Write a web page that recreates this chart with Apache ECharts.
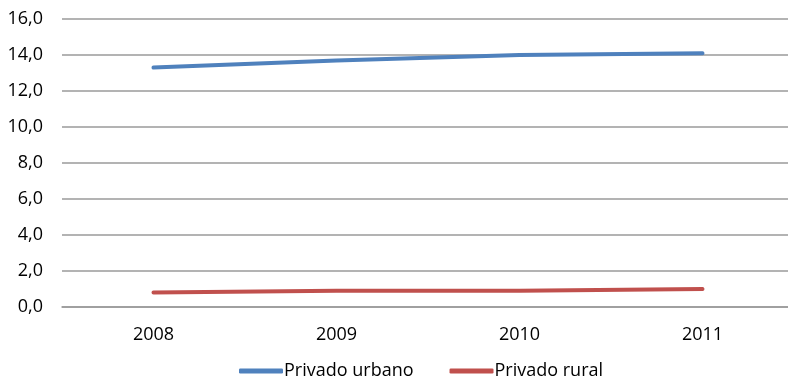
<!DOCTYPE html>
<html>
<head>
<meta charset="utf-8">
<script src="https://cdn.jsdelivr.net/npm/echarts@6/dist/echarts.min.js"></script>
<style>
  html, body { margin: 0; padding: 0; background: #fff; }
  #chart { width: 788px; height: 377px; }
</style>
</head>
<body>
<div id="chart"></div>
<script>
// Years on the category axis
const years = ['2008', '2009', '2010', '2011'];
// Series values
const privadoUrbano = [13.3, 13.7, 14.0, 14.1];
const privadoRural = [0.8, 0.9, 0.9, 1.0];
// Series names
const seriesNames = ['Privado urbano', 'Privado rural'];

const FONT = '"Open Sans", "Liberation Sans", sans-serif';
const GRID_COLOR = '#9a9a9a';

const chart = echarts.init(document.getElementById('chart'), null, { renderer: 'canvas' });

chart.setOption({
  animation: false,
  backgroundColor: '#ffffff',
  grid: { left: 62, width: 732, top: 19, bottom: 70, containLabel: false, outerBoundsMode: 'none' },
  legend: {
    data: [
      { name: seriesNames[0], icon: 'roundRect' },
      { name: seriesNames[1], icon: 'roundRect' }
    ],
    left: 234,
    top: 357,
    itemWidth: 44,
    itemHeight: 5,
    itemGap: 36,
    textStyle: { fontFamily: FONT, fontSize: 18, color: '#000', padding: [0, 0, 0, -4] }
  },
  xAxis: {
    type: 'category',
    data: years,
    boundaryGap: true,
    axisLine: { show: true, lineStyle: { color: GRID_COLOR, width: 1.5 } },
    axisTick: { show: false },
    axisLabel: { fontFamily: FONT, fontSize: 18, color: '#000', margin: 19 }
  },
  yAxis: {
    type: 'value',
    min: 0,
    max: 16,
    interval: 2,
    axisLine: { show: false },
    axisTick: { show: false },
    splitLine: { lineStyle: { color: GRID_COLOR, width: 1.5 } },
    axisLabel: {
      fontFamily: FONT, fontSize: 18, color: '#000', margin: 19,
      formatter: v => v.toFixed(1).replace('.', ',')
    }
  },
  series: [
    {
      name: seriesNames[0],
      type: 'line',
      data: privadoUrbano,
      symbol: 'none',
      itemStyle: { color: '#4F81BD' },
      lineStyle: { color: '#4F81BD', width: 4, cap: 'round' }
    },
    {
      name: seriesNames[1],
      type: 'line',
      data: privadoRural,
      symbol: 'none',
      itemStyle: { color: '#C0504D' },
      lineStyle: { color: '#C0504D', width: 4, cap: 'round' }
    }
  ]
});
</script>
</body>
</html>
